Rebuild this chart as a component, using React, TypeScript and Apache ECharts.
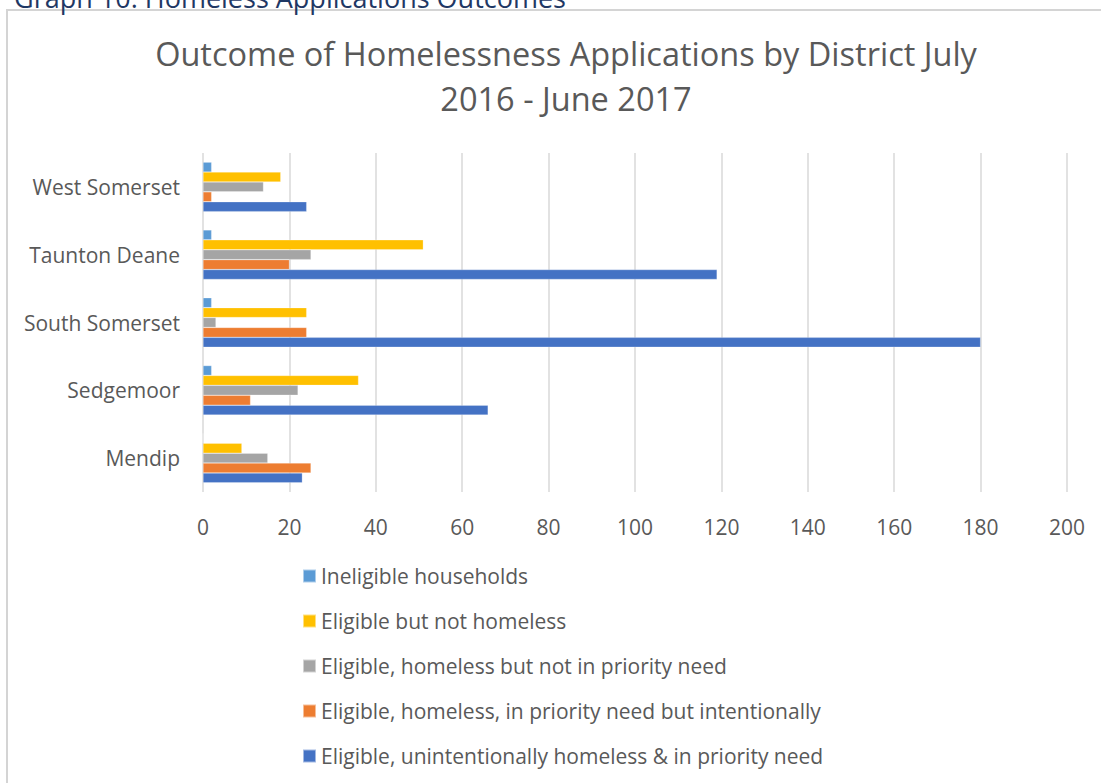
import React, { useEffect, useRef } from "react";
import * as echarts from "echarts";

const categories = ["Mendip", "Sedgemoor", "South Somerset", "Taunton Deane", "West Somerset"];
const seriesNames = [
  "Ineligible households",
  "Eligible but not homeless",
  "Eligible, homeless but not in priority need",
  "Eligible, homeless, in priority need but intentionally",
  "Eligible, unintentionally homeless & in priority need",
];
const ineligible = [0, 2, 2, 2, 2];
const eligibleNotHomeless = [9, 36, 24, 51, 18];
const notPriority = [15, 22, 3, 25, 14];
const intentionally = [25, 11, 24, 20, 2];
const unintentionally = [23, 66, 180, 119, 24];
const colors = ["#5B9BD5", "#FFC000", "#A5A5A5", "#ED7D31", "#4472C4"];
const xTicks = { min: 0, max: 200, interval: 20 };

const FONT = "'Open Sans', 'Noto Sans', sans-serif";

export default function App() {
  const ref = useRef<HTMLDivElement>(null);
  useEffect(() => {
    document.body.style.margin = "0";
    if (!ref.current) return;
    const chart = echarts.init(ref.current, null, { renderer: "svg" });
    const values = [ineligible, eligibleNotHomeless, notPriority, intentionally, unintentionally];
    chart.setOption({
      animation: false,
      backgroundColor: "#FFFFFF",
      textStyle: { fontFamily: FONT },
      title: {
        text: "Outcome of Homelessness Applications by District July\n2016 - June 2017",
        left: 561,
        textAlign: "center",
        top: 26,
        textStyle: {
          fontFamily: FONT,
          fontSize: 32.5,
          fontWeight: "normal",
          color: "#595959",
          lineHeight: 45,
        },
      },
      graphic: [
        {
          type: "rect",
          shape: { x: 7, y: 10, width: 1200, height: 900 },
          style: { fill: "none", stroke: "#D4D4D4", lineWidth: 2 },
          silent: true,
          z: -1,
        },
        {
          type: "text",
          x: 14,
          y: -16,
          style: {
            text: "Graph 10: Homeless Applications Outcomes",
            fill: "#1F3864",
            fontSize: 27,
            fontFamily: FONT,
          },
        },
      ],
      legend: {
        orient: "vertical",
        left: 297,
        top: 560,
        itemWidth: 13,
        itemHeight: 13,
        itemGap: 23,
        icon: "rect",
        data: seriesNames,
        textStyle: { fontFamily: FONT, fontSize: 21, color: "#595959", lineHeight: 22 },
      },
      grid: { left: 203, right: 34, top: 153, bottom: 291, containLabel: false },
      xAxis: {
        type: "value",
        min: xTicks.min,
        max: xTicks.max,
        interval: xTicks.interval,
        axisLine: { show: false },
        axisTick: { show: false },
        axisLabel: { fontFamily: FONT, fontSize: 21, color: "#595959", margin: 24 },
        splitLine: { lineStyle: { color: "#D9D9D9", width: 1.5 } },
      },
      yAxis: {
        type: "category",
        data: categories,
        axisLine: { show: false },
        axisTick: { show: false },
        axisLabel: { fontFamily: FONT, fontSize: 21, color: "#595959", margin: 23 },
      },
      series: seriesNames.map((name, i) => ({
        name,
        type: "bar",
        data: values[i],
        barGap: "0%",
        barCategoryGap: "27%",
        itemStyle: { color: colors[i], borderColor: "rgba(255,255,255,0.5)", borderWidth: 0.5 },
      })),
    });
    return () => chart.dispose();
  }, []);
  return <div ref={ref} style={{ width: 1101, height: 783 }} />;
}
